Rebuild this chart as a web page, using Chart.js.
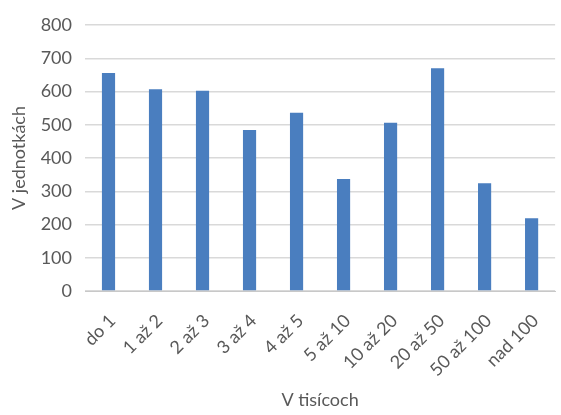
<!DOCTYPE html>
<html>
<head>
<meta charset="utf-8">
<script src="https://cdn.jsdelivr.net/npm/chart.js@4"></script>
<style>
  html, body { margin: 0; padding: 0; background: #ffffff; overflow: hidden; }
  #wrap { width: 561px; height: 415px; overflow: hidden; }
  #box { width: 566px; height: 415px; }
</style>
</head>
<body>
<div id="wrap"><div id="box"><canvas id="c"></canvas></div></div>
<script>
// Počet jednotiek podľa veľkostnej skupiny (v tisícoch)
const categories = ['do 1', '1 až 2', '2 až 3', '3 až 4', '4 až 5', '5 až 10', '10 až 20', '20 až 50', '50 až 100', 'nad 100'];
const counts = [656, 607, 602, 484, 536, 337, 506, 670, 324, 219];
const yTicks = [0, 100, 200, 300, 400, 500, 600, 700, 800];

const FONT = 'Lato, "Open Sans", sans-serif';
const TEXT = '#595959';

new Chart(document.getElementById('c'), {
  type: 'bar',
  data: {
    labels: categories,
    datasets: [{
      data: counts,
      backgroundColor: '#4a7ebf',
      borderWidth: 0,
      barPercentage: 0.28,
      categoryPercentage: 1.0
    }]
  },
  options: {
    responsive: true,
    maintainAspectRatio: false,
    animation: false,
    layout: { padding: { top: 25, right: 2.5, bottom: 0, left: 0 } },
    plugins: { legend: { display: false }, tooltip: { enabled: false } },
    scales: {
      x: {
        grid: { display: false, drawTicks: false },
        border: { display: true, color: '#c8c8c8', width: 1 },
        ticks: {
          color: TEXT,
          font: { family: FONT, size: 18 },
          minRotation: 45,
          maxRotation: 45,
          padding: 19,
          labelOffset: 4,
          autoSkip: false
        },
        title: {
          display: true,
          text: 'V tisícoch',
          color: TEXT,
          font: { family: FONT, size: 18 },
          padding: { top: 0, bottom: 4 }
        },
        afterFit: (s) => { s.height = 124; }
      },
      y: {
        min: 0,
        max: 800,
        afterBuildTicks: (s) => { s.ticks = yTicks.map(v => ({ value: v })); },
        grid: { color: '#d9d9d9', lineWidth: 1.5, drawTicks: false },
        border: { display: false },
        ticks: {
          color: TEXT,
          font: { family: FONT, size: 18 },
          padding: 13
        },
        title: {
          display: true,
          text: 'V jednotkách',
          color: TEXT,
          font: { family: FONT, size: 18 },
          padding: { top: 8, bottom: 0 }
        },
        afterFit: (s) => { s.width = 85; }
      }
    }
  }
});
</script>
</body>
</html>
